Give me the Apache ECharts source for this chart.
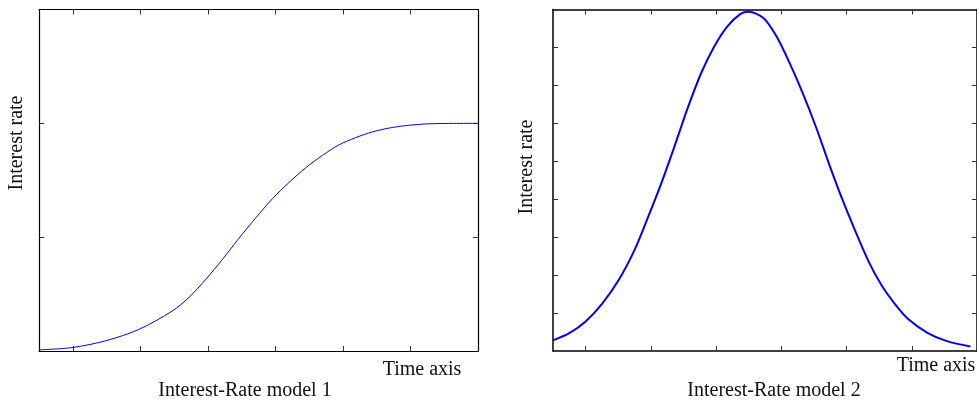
<!DOCTYPE html>
<html>
<head>
<meta charset="utf-8">
<script src="https://cdn.jsdelivr.net/npm/echarts@6/dist/echarts.min.js"></script>
<style>
html,body{margin:0;padding:0;background:#fff;}
#c{width:977px;height:403px;}
</style>
</head>
<body>
<div id="c"></div>
<script>
// Model 1: sigmoid-like interest rate curve
const sigX = [0, 0.49, 0.99, 1.48, 1.97, 2.22, 2.47, 2.71, 2.96, 3.21, 3.46, 3.70, 3.95, 4.20, 4.44, 4.69, 4.94, 5.18, 5.43, 5.82, 6.5];
const sigY = [0.01, 0.03, 0.09, 0.19, 0.35, 0.47, 0.63, 0.80, 0.99, 1.17, 1.34, 1.48, 1.61, 1.72, 1.81, 1.875, 1.925, 1.958, 1.98, 1.997, 2.0];
// Model 2: bell-shaped interest rate curve
const bellX = [0, 0.25, 0.50, 0.755, 1.007, 1.26, 1.46, 1.66, 1.86, 2.06, 2.27, 2.47, 2.67, 2.87, 3.0, 3.23, 3.43, 3.63, 3.83, 4.03, 4.23, 4.43, 4.63, 4.83, 5.03, 5.24, 5.44, 5.74, 6.04, 6.40];
const bellY = [0.28, 0.47, 0.78, 1.25, 1.87, 2.70, 3.54, 4.42, 5.38, 6.38, 7.32, 8.02, 8.55, 8.88, 8.94, 8.77, 8.28, 7.58, 6.79, 5.91, 4.94, 4.02, 3.18, 2.39, 1.75, 1.24, 0.85, 0.48, 0.26, 0.12];
// Tick positions
const xTicks = [0.5, 1.5, 2.5, 3.5, 4.5, 5.5];
const yTicks1 = [1, 2];
const yTicks2 = [1, 2, 3, 4, 5, 6, 7, 8];
const titles = ['Interest-Rate model 1', 'Interest-Rate model 2'];
const yName = 'Interest rate';
const xName = 'Time axis';

const FONT = '"Liberation Serif", "DejaVu Serif", serif';
const chart = echarts.init(document.getElementById('c'));

function xAx(grid, pos, lw) {
  return {
    type: 'value', gridIndex: grid, position: pos, min: 0, max: 6.5,
    axisLine: {show: true, onZero: false, lineStyle: {color: '#000', width: lw}},
    axisTick: {show: true, inside: true, length: 5, customValues: xTicks, lineStyle: {color: '#333', width: 1}},
    axisLabel: {show: false}, splitLine: {show: false}
  };
}
function yAx(grid, pos, max, ticks, lw) {
  return {
    type: 'value', gridIndex: grid, position: pos, min: 0, max: max,
    axisLine: {show: true, onZero: false, lineStyle: {color: '#000', width: lw}},
    axisTick: {show: true, inside: true, length: 5, customValues: ticks, lineStyle: {color: '#333', width: 1}},
    axisLabel: {show: false}, splitLine: {show: false}
  };
}
function txt(x, y, s, rot, align) {
  return {
    type: 'text', x: x, y: y, rotation: rot || 0,
    style: {text: s, fill: '#111', font: '20px ' + FONT, textAlign: align || 'center', textVerticalAlign: 'middle'}
  };
}

chart.setOption({
  backgroundColor: '#fff',
  animation: false,
  grid: [
    {left: 39, right: 499, top: 9.5, bottom: 52},
    {left: 553, right: -6, top: 9.5, bottom: 52}
  ],
  xAxis: [xAx(0, 'bottom', 1.2), xAx(0, 'top', 1.2), xAx(1, 'bottom', 1.5), xAx(1, 'top', 1.5)],
  yAxis: [yAx(0, 'left', 3, yTicks1, 1.2), yAx(0, 'right', 3, yTicks1, 1.2), yAx(1, 'left', 9, yTicks2, 1.5), yAx(1, 'right', 9, yTicks2, 1.5)],
  series: [
    {type: 'line', xAxisIndex: 0, yAxisIndex: 0, showSymbol: false, symbol: 'none', smooth: 0.3,
     lineStyle: {color: '#0000ff', width: 1}, data: sigX.map((x, i) => [x, sigY[i]])},
    {type: 'line', xAxisIndex: 2, yAxisIndex: 2, showSymbol: false, symbol: 'none', smooth: 0.3,
     lineStyle: {color: '#0000ff', width: 2}, data: bellX.map((x, i) => [x, bellY[i]])}
  ],
  graphic: [
    txt(17, 143, yName, Math.PI / 2),
    txt(527, 167, yName, Math.PI / 2),
    txt(422, 370, xName),
    txt(936, 366, xName),
    txt(245, 391, titles[0]),
    txt(774, 391, titles[1])
  ]
});
</script>
</body>
</html>
